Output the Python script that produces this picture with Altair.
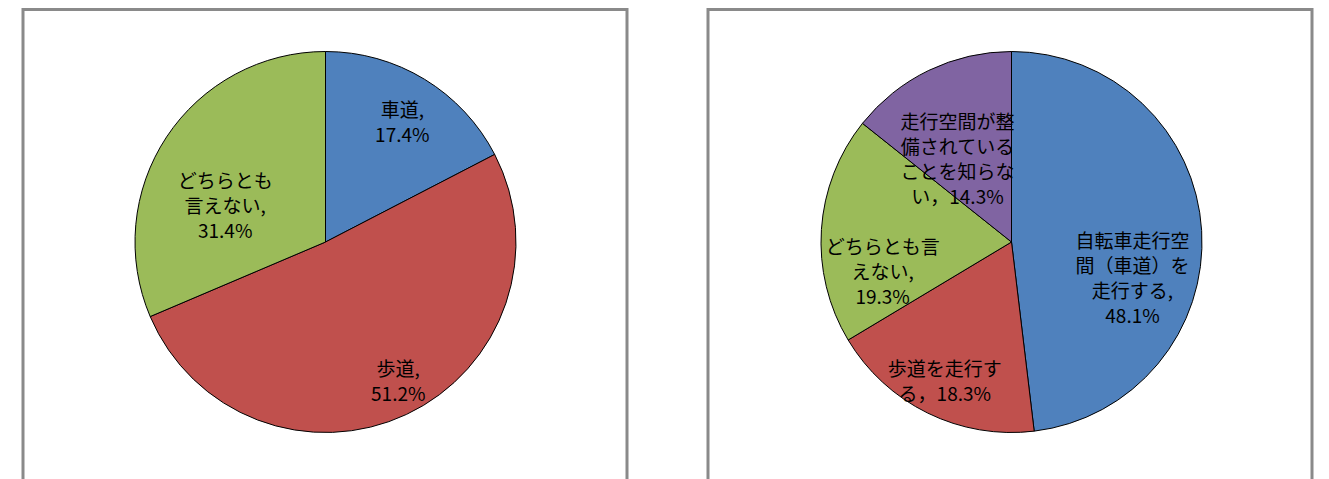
import altair as alt
import pandas as pd

# ---- data ----
left_categories = ["車道", "歩道", "どちらとも言えない"]
left_values = [17.4, 51.2, 31.4]
left_labels = ["車道,\n17.4%", "歩道,\n51.2%", "どちらとも\n言えない,\n31.4%"]

right_categories = [
    "自転車走行空間（車道）を走行する",
    "歩道を走行する",
    "どちらとも言えない",
    "走行空間が整備されていることを知らない",
]
right_values = [48.1, 18.3, 19.3, 14.3]
right_labels = [
    "自転車走行空\n間（車道）を\n走行する,\n48.1%",
    "歩道を走行す\nる，18.3%",
    "どちらとも言\nえない,\n19.3%",
    "走行空間が整\n備されている\nことを知らな\nい，14.3%",
]

colors = ["#4F81BD", "#C0504D", "#9BBB59", "#8064A2"]
FONT = "Noto Sans CJK JP"
R = 190.5
CY = 234


def pie(cats, vals, labels, label_place, frame_x, w, h):
    df = pd.DataFrame({"cat": cats, "value": vals, "label": labels,
                       "idx": list(range(len(cats)))})
    base = alt.Chart(df)
    frame = alt.Chart(pd.DataFrame({"f": [0]})).mark_rect(
        fillOpacity=0, stroke="#8a8a8a", strokeWidth=3
    ).encode(x=alt.value(frame_x[0]), x2=alt.value(frame_x[1]),
             y=alt.value(1.5), y2=alt.value(h + 60))
    arcs = base.mark_arc(radius=R, stroke="black", strokeWidth=1).encode(
        theta=alt.Theta("value:Q", stack=True),
        color=alt.Color("idx:N", scale=alt.Scale(domain=[0, 1, 2, 3], range=colors), legend=None),
        order=alt.Order("idx:Q"),
        y=alt.value(CY),
    )
    layers = [frame, arcs]
    for i, (r, off) in enumerate(label_place):
        t = (
            base.transform_window(cum="sum(value)", sort=[alt.SortField("idx")], frame=[None, 0])
            .transform_calculate(mid="datum.cum - datum.value / 2")
            .transform_filter(alt.datum.idx == i)
            .mark_text(radius=r, thetaOffset=off, font=FONT, fontSize=19, lineHeight=25,
                       lineBreak="\n", align="center", baseline="middle", color="black")
            .encode(theta=alt.Theta("mid:Q", stack=None, scale=alt.Scale(domain=[0, 100])),
                    text="label:N", y=alt.value(CY))
        )
        layers.append(t)
    return alt.layer(*layers).properties(width=w, height=h)


left = pie(left_categories, left_values, left_labels,
           [(152, -0.017), (147, -0.078), (117, -0.044)], (15, 619), 635, 463)
right = pie(right_categories, right_values, right_labels,
            [(121, 0.059), (144, 0.026), (129, -0.113), (131, 0.024)], (6, 610), 619, 463)

chart = (
    alt.hconcat(left, right, spacing=59)
    .properties(padding={"left": 0, "top": 0, "right": 0, "bottom": 0})
    .configure_view(stroke=None)
)

chart.save("out.html", embed_options={"renderer": "svg", "actions": False})
